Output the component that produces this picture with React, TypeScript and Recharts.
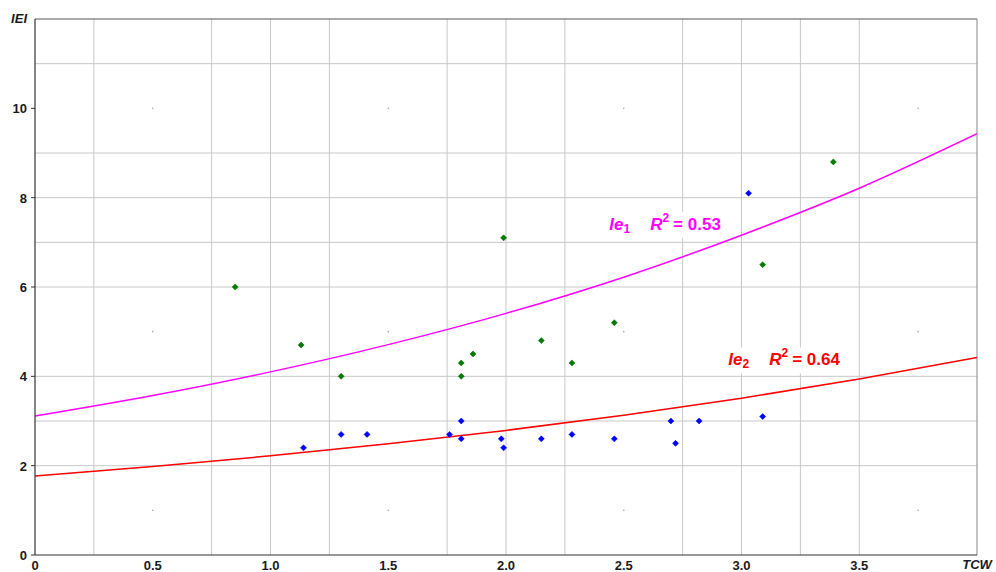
import React from 'react';
import {
  ComposedChart, XAxis, YAxis, Scatter, Line, ReferenceLine, ReferenceDot,
} from 'recharts';

// Tick values and labels
const xTicks = [0, 0.5, 1, 1.5, 2, 2.5, 3, 3.5, 4];
const xTickLabels = ['0', '0.5', '1.0', '1.5', '2.0', '2.5', '3.0', '3.5', 'TCW'];
const yTicks = [0, 2, 4, 6, 8, 10, 12];
const yTickLabels = ['0', '2', '4', '6', '8', '10', 'IEI'];

// Grid positions (as drawn in the reference)
const gridX = [0.25, 0.75, 1.0, 1.25, 1.75, 2.0, 2.25, 2.75, 3.0, 3.25, 3.5];
const gridY = [2, 3, 4, 6, 7, 8, 9, 11];
const dotX = [0.5, 1.5, 2.5, 3.75];
const dotY = [1, 5, 10];

// Series Ie1 (green)
const ie1X = [0.85, 1.13, 1.3, 1.99, 1.81, 1.81, 1.86, 2.15, 2.28, 2.46, 3.09, 3.39];
const ie1Y = [6.0, 4.7, 4.0, 7.1, 4.0, 4.3, 4.5, 4.8, 4.3, 5.2, 6.5, 8.8];

// Series Ie2 (blue)
const ie2X = [1.14, 1.3, 1.41, 1.76, 1.81, 1.81, 1.98, 1.99, 2.15, 2.28, 2.46, 2.7, 2.72, 2.82, 3.03, 3.09];
const ie2Y = [2.4, 2.7, 2.7, 2.7, 3.0, 2.6, 2.6, 2.4, 2.6, 2.7, 2.6, 3.0, 2.5, 3.0, 8.1, 3.1];

// Trend curves
const curveX = [0, 0.5, 1, 1.5, 2, 2.5, 3, 3.5, 4];
const curve1Y = [3.11, 3.57, 4.10, 4.71, 5.41, 6.22, 7.16, 8.21, 9.43];
const curve2Y = [1.77, 1.98, 2.22, 2.49, 2.79, 3.13, 3.51, 3.94, 4.42];

const ie1Data = ie1X.map((x, i) => ({ x, y: ie1Y[i] }));
const ie2Data = ie2X.map((x, i) => ({ x, y: ie2Y[i] }));
const curve1Data = curveX.map((x, i) => ({ x, y: curve1Y[i] }));
const curve2Data = curveX.map((x, i) => ({ x, y: curve2Y[i] }));

const FONT = '"Liberation Sans", Arial, sans-serif';
const GRID = '#c8c8c8';

const Diamond = (color: string) => (props: any) => {
  const { cx, cy } = props;
  if (cx == null || cy == null) return null;
  return <path d={`M${cx - 3},${cy} L${cx},${cy - 3} L${cx + 3},${cy} L${cx},${cy + 3} Z`} fill={color} stroke={color} strokeWidth={0.6} />;
};

const XTick = (props: any) => {
  const { x, y, payload } = props;
  const idx = xTicks.indexOf(payload.value);
  const label = xTickLabels[idx] ?? String(payload.value);
  const italic = label === 'TCW';
  return (
    <text x={x} y={y} dy={italic ? 14 : 15} textAnchor="middle" fontFamily={FONT} fontWeight="bold" fontSize={13}
      fontStyle={italic ? 'italic' : 'normal'} fill="#1a1a1a">{label}</text>
  );
};

const YTick = (props: any) => {
  const { x, y, payload } = props;
  const idx = yTicks.indexOf(payload.value);
  const label = yTickLabels[idx] ?? String(payload.value);
  const italic = label === 'IEI';
  return (
    <g>
      {!italic && <line x1={x + 4} x2={x + 8} y1={y} y2={y} stroke="#333" />}
      <text x={x} y={y} dy={italic ? 4 : 5} textAnchor="end" fontFamily={FONT} fontWeight="bold" fontSize={13}
        fontStyle={italic ? 'italic' : 'normal'} fill="#1a1a1a">{label}</text>
    </g>
  );
};

const FitLabel = (color: string, sub: string, r2: string, w: number) => (props: any) => {
  const { cx, cy } = props;
  if (cx == null || cy == null) return null;
  return (
    <g>
      <rect x={cx - 4} y={cy - 18} width={w} height={26} fill="#ffffff" />
      <text x={cx} y={cy} fontFamily={FONT} fontWeight="bold" fontSize={17} fill={color}>
        <tspan fontStyle="italic">Ie</tspan>
        <tspan fontSize={12} dy={3}>{sub}</tspan>
        <tspan fontStyle="italic" dx={20} dy={-3}>R</tspan>
        <tspan fontSize={12} dy={-8}>2</tspan>
        <tspan dx={4} dy={8}>= {r2}</tspan>
      </text>
    </g>
  );
};

export default function App() {
  return (
    <div style={{ position: 'absolute', left: 0, top: 0, fontFamily: FONT, background: '#fff' }}>
      <ComposedChart width={996} height={572} margin={{ top: 19, right: 19, left: 0, bottom: 0 }}>
        <XAxis dataKey="x" type="number" domain={[0, 4]} ticks={xTicks} allowDataOverflow
          height={17} tickSize={0} tickMargin={0} tickLine={false} tick={<XTick />}
          axisLine={{ stroke: '#333', strokeWidth: 1.2 }} interval={0} />
        <YAxis type="number" domain={[0, 12]} ticks={yTicks} allowDataOverflow width={35}
          tickSize={4} tickMargin={4} tickLine={false} tick={<YTick />}
          axisLine={{ stroke: '#333', strokeWidth: 1.2 }} interval={0} />

        {gridX.map((v) => (
          <ReferenceLine key={`gx${v}`} x={v} stroke={GRID} strokeWidth={1} />
        ))}
        {gridY.map((v) => (
          <ReferenceLine key={`gy${v}`} y={v} stroke={GRID} strokeWidth={1} />
        ))}
        {dotX.flatMap((xv) => dotY.map((yv) => (
          <ReferenceDot key={`d${xv}-${yv}`} x={xv} y={yv} r={0.8} fill="#aaaaaa" stroke="none" />
        )))}
        <ReferenceLine y={12} stroke="#555" strokeWidth={1.2} />
        <ReferenceLine x={4} stroke="#999" strokeWidth={1.2} />

        <ReferenceDot x={2.4385} y={7.28} r={1} shape={FitLabel('#ff00ff', '1', '0.53', 126)} />
        <ReferenceDot x={2.944} y={4.244} r={1} shape={FitLabel('#ff0000', '2', '0.64', 126)} />

        <Line data={curve1Data} dataKey="y" type="monotone" stroke="#ff00ff" strokeWidth={1.5}
          dot={false} activeDot={false} isAnimationActive={false} />
        <Line data={curve2Data} dataKey="y" type="monotone" stroke="#ff0000" strokeWidth={1.5}
          dot={false} activeDot={false} isAnimationActive={false} />

        <Scatter data={ie1Data} dataKey="y" fill="#007a00" shape={Diamond('#007a00')} isAnimationActive={false} />
        <Scatter data={ie2Data} dataKey="y" fill="#0000ff" shape={Diamond('#0000ff')} isAnimationActive={false} />
      </ComposedChart>
    </div>
  );
}
